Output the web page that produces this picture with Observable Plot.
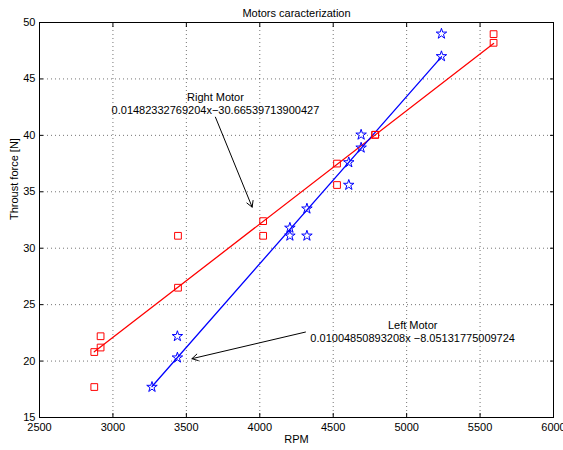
<!DOCTYPE html>
<html><head><meta charset="utf-8">
<script src="https://cdn.jsdelivr.net/npm/d3@7"></script>
<script src="https://cdn.jsdelivr.net/npm/@observablehq/plot@0.6"></script>
<style>body{margin:0;background:#fff}</style>
</head><body><div id="chart"></div>
<script>
const title = "Motors caracterization";
const xLabel = "RPM";
const yLabel = "Throust force [N]";
const xTicks = [2500, 3000, 3500, 4000, 4500, 5000, 5500, 6000];
const yTicks = [15, 20, 25, 30, 35, 40, 45, 50];

// Red squares
const rightRpm    = [2873, 2873, 2916, 2916, 3443, 3443, 4023, 4023, 4526, 4526, 4786, 4786, 5592, 5592];
const rightThrust = [17.7, 20.8, 22.2, 21.2, 26.5, 31.1, 32.4, 31.1, 37.5, 35.6, 40.05, 40.05, 48.2, 48.97];
// Blue stars
const leftRpm    = [3266, 3439, 3439, 4205, 4205, 4321, 4321, 4606, 4606, 4690, 4690, 5237, 5237];
const leftThrust = [17.7, 20.3, 22.2, 31.8, 31.1, 33.5, 31.1, 37.6, 35.6, 38.9, 40.05, 47.0, 49.0];

// Fit lines (end points)
const redFitRpm = [2873, 5592];
const redFitThrust = [20.82, 48.14];
const blueFitRpm = [3266, 5237];
const blueFitThrust = [17.75, 46.96];

// Annotations
const annotText = ["Right Motor\n0.01482332769204x\u221230.66539713900427", "Left Motor\n0.01004850893208x \u22128.05131775009724"];
const annotX = [3698, 5041];
const annotY = [42.87, 22.6];
const arrowX1 = [3698, 4311];
const arrowY1 = [41.61, 22.57];
const arrowX2 = [3948, 3538];
const arrowY2 = [33.64, 20.21];

const font = "'Liberation Sans', Arial, Helvetica, sans-serif";
const gridStyle = {stroke: "#000", strokeOpacity: 0.55, strokeDasharray: "1,3", strokeWidth: 1};
const fmt = d => String(d);

const chart = Plot.plot({
  width: 563, height: 450,
  marginLeft: 39, marginRight: 10, marginTop: 22, marginBottom: 33,
  style: {fontFamily: font, fontSize: "11px", color: "#000", background: "#fff", overflow: "visible"},
  x: {domain: [2500, 6000]},
  y: {domain: [15, 50]},
  marks: [
    Plot.gridX(xTicks.slice(1, -1), gridStyle),
    Plot.gridY(yTicks.slice(1, -1), gridStyle),
    Plot.axisX(xTicks, {anchor: "bottom", tickSize: -4, tickPadding: 10, tickFormat: fmt, label: null}),
    Plot.axisX(xTicks, {anchor: "top", tickSize: -4, tickFormat: () => "", label: null}),
    Plot.axisY(yTicks, {anchor: "left", tickSize: -4, tickPadding: 8, tickFormat: fmt, label: null}),
    Plot.axisY(yTicks, {anchor: "right", tickSize: -4, tickFormat: () => "", label: null}),
    Plot.frame({stroke: "#000", strokeWidth: 1}),
    Plot.line(redFitRpm, {x: redFitRpm, y: redFitThrust, stroke: "#ff0000", strokeWidth: 1.3}),
    Plot.line(blueFitRpm, {x: blueFitRpm, y: blueFitThrust, stroke: "#0000ff", strokeWidth: 1.3}),
    Plot.dot(rightRpm, {x: rightRpm, y: rightThrust, symbol: "square", r: 3.8, stroke: "#ff0000", fill: "none", strokeWidth: 1}),
    Plot.dot(leftRpm, {x: leftRpm, y: leftThrust, symbol: "star", r: 3.3, stroke: "#0000ff", fill: "none", strokeWidth: 1}),
    Plot.arrow(arrowX1, {x1: arrowX1, y1: arrowY1, x2: arrowX2, y2: arrowY2, stroke: "#000", strokeWidth: 1, headLength: 10}),
    Plot.text(annotText, {x: annotX, y: annotY, text: annotText, textAnchor: "middle", lineHeight: 1.18, fill: "#000"}),
    Plot.text([title], {frameAnchor: "top", text: d => d, dy: -13, fill: "#000"}),
    Plot.text([xLabel], {frameAnchor: "bottom", text: d => d, dy: 25, fill: "#000"}),
    Plot.text([yLabel], {frameAnchor: "left", text: d => d, dx: -25, rotate: -90, fill: "#000"})
  ]
});
document.getElementById("chart").appendChild(chart);
</script>
</body></html>
